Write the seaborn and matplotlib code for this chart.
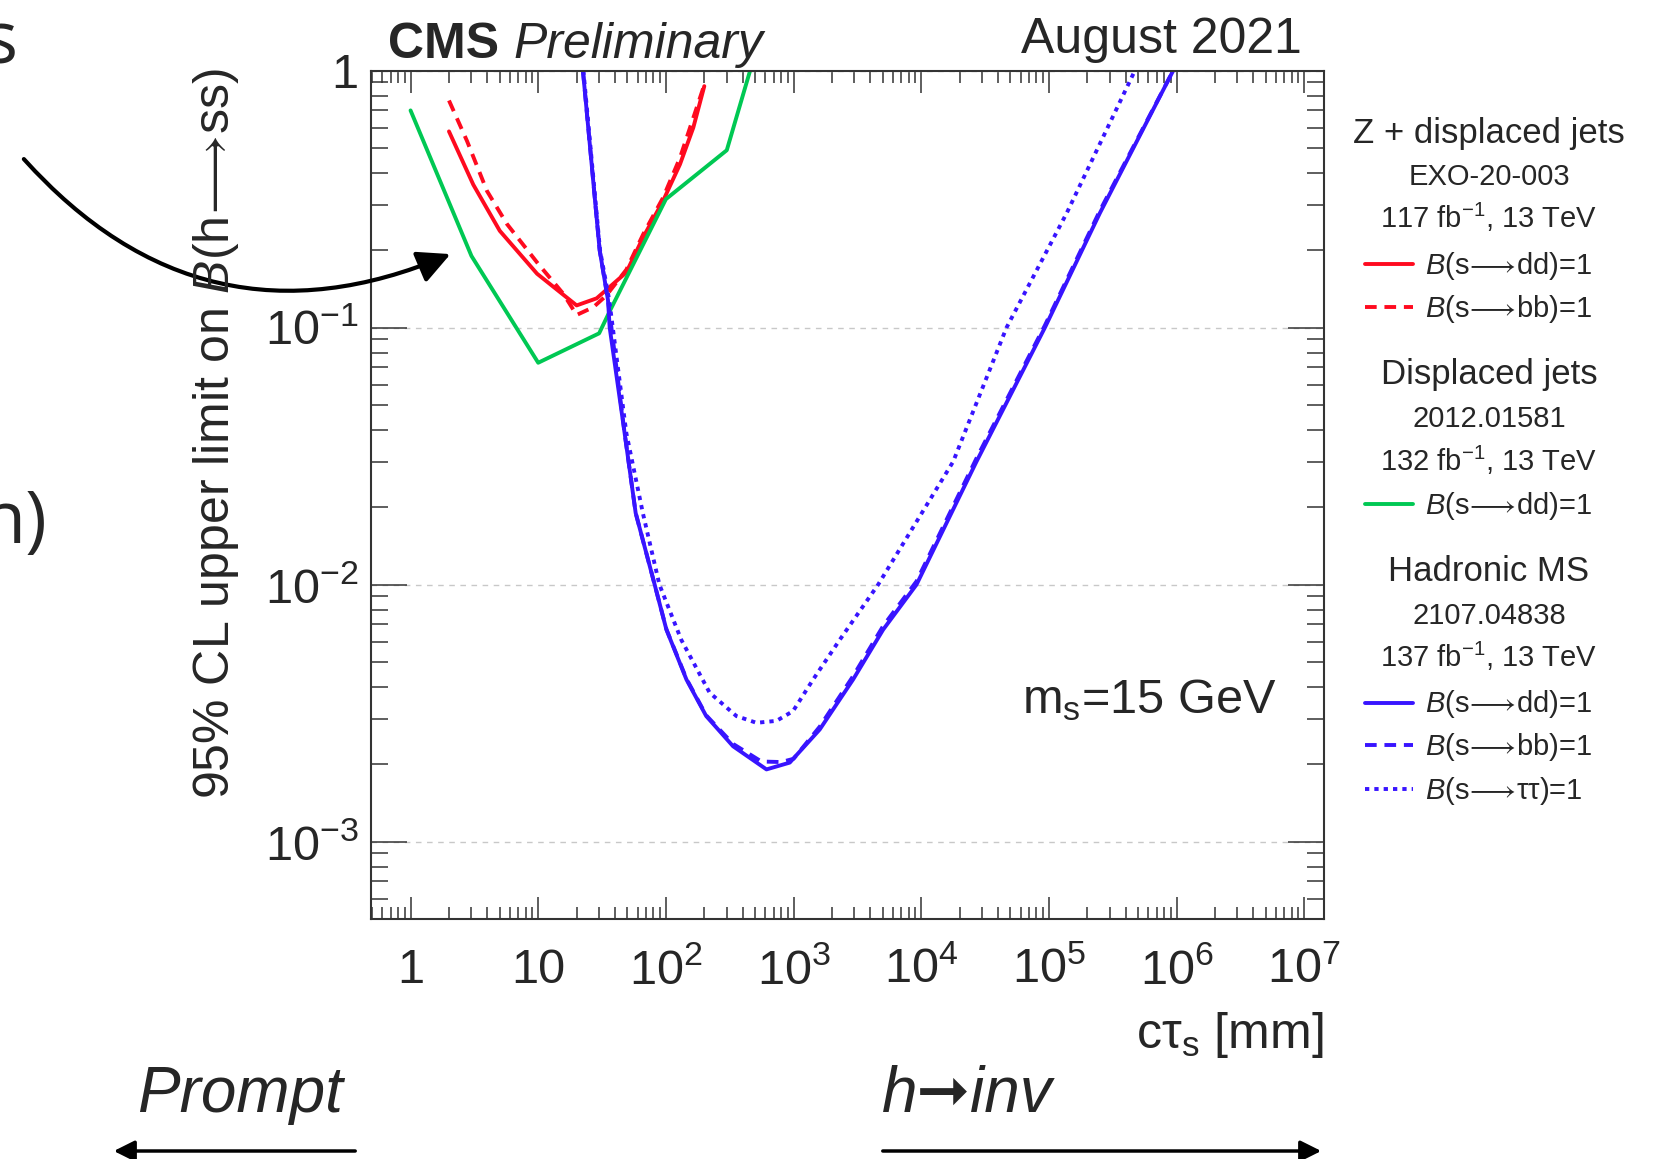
import numpy as np
import pandas as pd
import matplotlib
matplotlib.use("Agg")
import matplotlib.pyplot as plt
import matplotlib.ticker as mticker
from matplotlib.lines import Line2D
from matplotlib.patches import FancyArrowPatch
import seaborn as sns

# Z + displaced jets, EXO-20-003
zdj_dd_ctau = [2, 3.1, 5, 9.8, 20, 28.7, 38.7, 49, 66.5, 95, 129, 164, 200]
zdj_dd_lim = [0.58, 0.36, 0.238, 0.162, 0.122, 0.13, 0.148, 0.164, 0.225, 0.311, 0.432, 0.60, 0.87]
zdj_bb_ctau = [2, 2.77, 3.97, 5.69, 10, 15.8, 20, 27, 34, 49, 66.5, 95, 129, 200]
zdj_bb_lim = [0.765, 0.532, 0.34, 0.253, 0.177, 0.135, 0.112, 0.12, 0.133, 0.168, 0.231, 0.32, 0.458, 0.88]

# Displaced jets, 2012.01581
dj_dd_ctau = [1, 3, 10, 30, 37, 100, 300, 457]
dj_dd_lim = [0.70, 0.19, 0.073, 0.095, 0.118, 0.316, 0.49, 1.0]

# Hadronic MS, 2107.04838
ms_dd_ctau = [22.4, 30.3, 35.2, 36.3, 47.5, 58, 81.7, 101, 145, 207, 336, 614, 934,
              1603, 2924, 5033, 9190, 27100, 93100, 251000, 942000]
ms_dd_lim = [1.0, 0.2, 0.128, 0.1, 0.0389, 0.019, 0.01, 0.00668, 0.00427, 0.00308, 0.00235,
             0.00191, 0.00203, 0.00273, 0.00427, 0.00668, 0.01, 0.0301, 0.1, 0.279, 1.0]
ms_bb_ctau = [22.4, 30.3, 35.2, 47.5, 58, 81.7, 101, 145, 207, 336, 560, 800, 1000,
              1603, 2924, 5033, 9190, 27100, 93100, 251000, 942000]
ms_bb_lim = [1.0, 0.2, 0.128, 0.0389, 0.019, 0.01, 0.0067, 0.0043, 0.0031, 0.0024, 0.00205,
             0.00204, 0.0021, 0.0028, 0.0044, 0.0069, 0.0103, 0.031, 0.102, 0.285, 1.0]
ms_tt_ctau = [22.6, 30.5, 36, 49, 66, 89, 132, 220, 357, 512, 735, 991, 1422, 2302,
              4600, 17800, 46600, 138000, 472000]
ms_tt_lim = [1.0, 0.2, 0.128, 0.0389, 0.019, 0.01, 0.0061, 0.0038, 0.00308, 0.0029, 0.00295,
             0.00322, 0.00427, 0.0061, 0.01, 0.0301, 0.1, 0.279, 1.0]

RED = "#ff0a1f"
GREEN = "#00c853"
BLUE = "#3814ff"
DASH = (0, (3, 2))
DOT = (0, (1.1, 1.3))

curves = [
    ("zdj_dd", zdj_dd_ctau, zdj_dd_lim, RED, "-"),
    ("zdj_bb", zdj_bb_ctau, zdj_bb_lim, RED, DASH),
    ("dj_dd", dj_dd_ctau, dj_dd_lim, GREEN, "-"),
    ("ms_dd", ms_dd_ctau, ms_dd_lim, BLUE, "-"),
    ("ms_bb", ms_bb_ctau, ms_bb_lim, BLUE, DASH),
    ("ms_tt", ms_tt_ctau, ms_tt_lim, BLUE, DOT),
]

df = pd.concat([pd.DataFrame({"ctau": c, "limit": l, "curve": name})
                for name, c, l, _, _ in curves], ignore_index=True)

sns.set_style("ticks")
plt.rcParams["font.family"] = ["Liberation Sans", "DejaVu Sans"]
plt.rcParams["mathtext.fontset"] = "custom"
plt.rcParams["mathtext.rm"] = "Liberation Sans"
plt.rcParams["mathtext.it"] = "Liberation Sans:italic"
plt.rcParams["mathtext.bf"] = "Liberation Sans:bold"
plt.rcParams["mathtext.fallback"] = "stix"

W, H = 1653, 1159
ARROW = r"$\!\longrightarrow\!$"


def fx(x):
    return x / W


def fy(y):
    return 1 - y / H


fig = plt.figure(figsize=(W / 100, H / 100), dpi=100)
ax = fig.add_axes([fx(371), fy(919), (1324 - 371) / W, (919 - 70.6) / H])

for name, _, _, color, ls in curves:
    sub = df[df.curve == name]
    sns.lineplot(data=sub, x="ctau", y="limit", ax=ax, color=color, lw=2.8,
                 linestyle=ls, estimator=None, sort=False, legend=False)

ax.set_xscale("log")
ax.set_yscale("log")
ax.set_xlim(0.49, 1.43e7)
ax.set_ylim(5e-4, 1)
ax.set_xlabel("")
ax.set_ylabel("")

ax.xaxis.set_major_locator(mticker.LogLocator(base=10, numticks=20))
ax.xaxis.set_minor_locator(mticker.LogLocator(base=10, subs=np.arange(2, 10), numticks=100))
ax.yaxis.set_major_locator(mticker.LogLocator(base=10, numticks=20))
ax.yaxis.set_minor_locator(mticker.LogLocator(base=10, subs=np.arange(2, 10), numticks=100))
ax.xaxis.set_minor_formatter(mticker.NullFormatter())
ax.yaxis.set_minor_formatter(mticker.NullFormatter())


def dec_fmt(v, pos):
    e = int(round(np.log10(v)))
    if e == 0:
        return "1"
    if e == 1:
        return "10"
    return r"$10^{%d}$" % e


ax.xaxis.set_major_formatter(mticker.FuncFormatter(dec_fmt))
ax.yaxis.set_major_formatter(mticker.FuncFormatter(dec_fmt))

ax.tick_params(which="both", direction="in", top=True, right=True, color="#333333", width=1.1)
ax.tick_params(axis="x", which="major", length=15.8, pad=21, labelsize=35)
ax.tick_params(axis="x", which="minor", length=8.6)
ax.tick_params(axis="y", which="major", length=26, pad=9, labelsize=35)
ax.tick_params(axis="y", which="minor", length=12.5)
for s in ax.spines.values():
    s.set_linewidth(1.5)
    s.set_color("#333333")
ax.yaxis.grid(True, which="major", color="#c8c8c8", lw=1, ls=(0, (4, 4)))
ax.xaxis.grid(False)

# axis titles
fig.text(fx(216), fy(68.5), r"95% CL upper limit on $B$(h" + ARROW + "ss)", rotation=90,
         ha="center", va="top", fontsize=36)
fig.text(fx(1324), fy(1048), r"cτ$_{\rm s}$ [mm]", ha="right", va="baseline", fontsize=36)

# header
fig.text(fx(388), fy(58), "CMS", fontweight="bold", fontsize=36, va="baseline")
fig.text(fx(513), fy(58), "Preliminary", fontstyle="italic", fontsize=36, va="baseline")
fig.text(fx(1302), fy(52.7), "August 2021", ha="right", va="baseline", fontsize=36)
fig.text(fx(1022), fy(713), r"m$_{\rm s}$=15 GeV", va="baseline", fontsize=35)

# legend drawn in the right margin
legend_rows = [
    ("head", "Z + displaced jets", 142.8),
    ("sub", "EXO-20-003", 185.4),
    ("sub", r"117 fb$^{-1}$, 13 TeV", 228.5),
    ("entry", r"$B$(s" + ARROW + "dd)=1", 273.5, RED, "-"),
    ("entry", r"$B$(s" + ARROW + "bb)=1", 317, RED, DASH),
    ("head", "Displaced jets", 383.6),
    ("sub", "2012.01581", 427),
    ("sub", r"132 fb$^{-1}$, 13 TeV", 470.7),
    ("entry", r"$B$(s" + ARROW + "dd)=1", 514.3, GREEN, "-"),
    ("head", "Hadronic MS", 580.8),
    ("sub", "2107.04838", 624.4),
    ("sub", r"137 fb$^{-1}$, 13 TeV", 667),
    ("entry", r"$B$(s" + ARROW + "dd)=1", 712.5, BLUE, "-"),
    ("entry", r"$B$(s" + ARROW + "bb)=1", 755, BLUE, DASH),
    ("entry", r"$B$(s" + ARROW + "ττ)=1", 798.7, BLUE, DOT),
]
for row in legend_rows:
    kind, txt, yb = row[0], row[1], row[2]
    if kind == "head":
        fig.text(fx(1489), fy(yb), txt, ha="center", va="baseline", fontsize=25)
    elif kind == "sub":
        fig.text(fx(1489), fy(yb), txt, ha="center", va="baseline", fontsize=21)
    else:
        fig.text(fx(1425), fy(yb), txt, ha="left", va="baseline", fontsize=21)
        fig.add_artist(Line2D([fx(1365), fx(1413)], [fy(yb - 10), fy(yb - 10)],
                              color=row[3], lw=2.8, linestyle=row[4]))

# slide annotations around the plot
fig.text(fx(17), fy(63), "s", ha="right", va="baseline", fontsize=53, family=["Open Sans", "DejaVu Sans"])
fig.text(fx(48), fy(543), "n)", ha="right", va="baseline", fontsize=53, family=["Open Sans", "DejaVu Sans"])
fig.add_artist(FancyArrowPatch((fx(22), fy(157)), (fx(453), fy(253)), transform=fig.transFigure,
                               connectionstyle="arc3,rad=0.36",
                               arrowstyle="-|>,head_length=0.9,head_width=0.45",
                               mutation_scale=22, lw=3, color="black"))

fig.text(fx(240), fy(1112), "Prompt", ha="center", va="baseline", fontsize=46, fontstyle="italic")
fig.text(fx(967), fy(1112), "h➞inv", ha="center", va="baseline", fontsize=46, fontstyle="italic",
         family=["Liberation Sans", "DejaVu Sans"])
fig.add_artist(FancyArrowPatch((fx(358), fy(1151)), (fx(111), fy(1151)), transform=fig.transFigure,
                               arrowstyle="-|>,head_length=0.7,head_width=0.35",
                               mutation_scale=18, lw=2.5, color="black"))
fig.add_artist(FancyArrowPatch((fx(880), fy(1151)), (fx(1324), fy(1151)), transform=fig.transFigure,
                               arrowstyle="-|>,head_length=0.7,head_width=0.35",
                               mutation_scale=18, lw=2.5, color="black"))

fig.savefig("out.png", dpi=100)
